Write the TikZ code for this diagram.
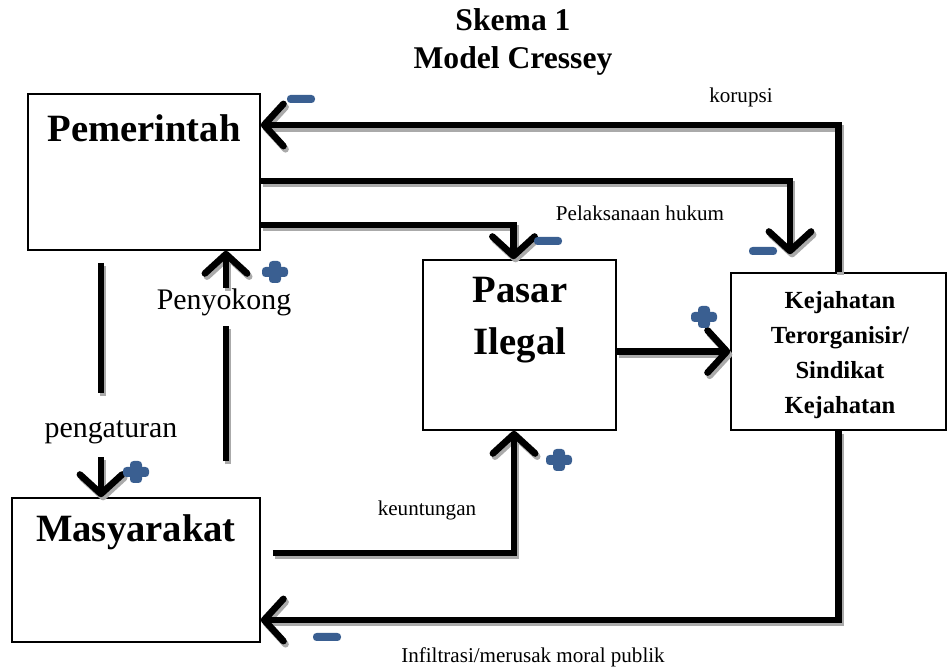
\documentclass[tikz,border=0pt]{standalone}
\usepackage{fontspec}
\setmainfont{Liberation Serif}
\usepackage{xcolor}
\usetikzlibrary{arrows.meta, positioning, calc}

\definecolor{signblue}{RGB}{58,95,145}
\definecolor{shadowgray}{RGB}{170,170,170}

\tikzset{
  box/.style={draw=black, line width=0.9pt, fill=white, inner sep=0pt},
  boxtext/.style={font=\bfseries\fontsize{22}{30}\selectfont, align=center, inner sep=0pt},
  flowline/.style={line width=3.8pt},
  flow/.style={flowline, -{Straight Barb[length=11pt, width=24pt, round]}},
  smalllabel/.style={font=\fontsize{12}{14}\selectfont, inner sep=0pt},
  biglabel/.style={font=\fontsize{17}{20}\selectfont, inner sep=0pt},
  minus sign/.pic={\fill[signblue, rounded corners=2pt] (-14,-4) rectangle (14,4);},
  plus sign/.pic={\fill[signblue, rounded corners=2pt] (-13,-5) rectangle (13,5);
                  \fill[signblue, rounded corners=2pt] (-6,-11) rectangle (6,11);}
}

% connector with a grey drop shadow
\newcommand{\shadowed}[2]{%
  \begin{scope}[transform canvas={shift={(1.2pt,-1.8pt)}}]
    \draw[#1, draw=shadowgray] #2;
  \end{scope}
  \draw[#1] #2;}

\begin{document}
\begin{tikzpicture}[x=0.02cm, y=-0.02cm]
  \useasboundingbox (0,0) rectangle (948,668);

  % ----- Title -----
  \node[font=\bfseries\fontsize{18}{21.5}\selectfont, align=center] (title) at (513,42) {Skema 1\\Model Cressey};

  % ----- Boxes -----
  \node[box, minimum width=4.64cm, minimum height=3.12cm] (pem) at (144,172) {};
  \node[boxtext] (pemtxt) at (144,128) {Pemerintah};

  \node[box, minimum width=3.86cm, minimum height=3.4cm] (pasar) at (519.5,345) {};
  \node[boxtext] (pasartxt) at (520,320) {Pasar\\Ilegal};

  \node[box, minimum width=4.3cm, minimum height=3.14cm] (kej) at (838.5,351.5) {};
  \node[boxtext, font=\bfseries\fontsize{14}{19.8}\selectfont] (kejtxt) at (840,355)
    {Kejahatan\\Terorganisir/\\Sindikat\\Kejahatan};

  \node[box, minimum width=4.96cm, minimum height=2.88cm] (masy) at (136,570) {};
  \node[boxtext] (masytxt) at (136,532) {Masyarakat};

  % ----- Connectors -----
  % korupsi
  \shadowed{flow}{(kej.north) |- ([yshift=0.94cm]pem.east)}
  % Pemerintah -> Kejahatan
  \shadowed{flow}{([yshift=-0.18cm]pem.east) -| ([xshift=-0.97cm, yshift=0.36cm]kej.north)}
  % Pelaksanaan hukum
  \shadowed{flow}{([yshift=-1.06cm]pem.east) -| ([xshift=-0.12cm]pasar.north)}
  % Pasar -> Kejahatan
  \shadowed{flow}{(pasar.east |- kej.west) -- (kej.west)}
  % keuntungan
  \shadowed{flow}{([xshift=0.24cm, yshift=0.34cm]masy.east) -| ([xshift=-0.11cm]pasar.south)}
  % Infiltrasi
  \shadowed{flow}{(kej.south) |- ([yshift=-1cm]masy.east)}

  % pengaturan
  \shadowed{flowline}{([xshift=-0.86cm, yshift=-0.24cm]pem.south) -- ++(0,130)}
  \shadowed{flow}{([xshift=-0.7cm, yshift=0.8cm]masy.north) -- ([xshift=-0.7cm]masy.north)}
  % Penyokong
  \shadowed{flowline}{([xshift=1.8cm, yshift=0.72cm]masy.north) -- ++(0,-135)}
  \shadowed{flow}{([xshift=1.64cm, yshift=-0.74cm]pem.south) -- ([xshift=1.64cm]pem.south)}

  % ----- Labels -----
  \node[smalllabel] (lkorupsi) at (741,97) {korupsi};
  \node[smalllabel] (lhukum) at (640,213) {Pelaksanaan hukum};
  \node[smalllabel] (luntung) at (427,510) {keuntungan};
  \node[smalllabel] (linfil) at (533,657) {Infiltrasi/merusak moral publik};
  \node[biglabel] (lsokong) at (224,302) {Penyokong};
  \node[biglabel] (latur) at (111,432) {pengaturan};

  % ----- Signs -----
  \pic at (301,99) {minus sign};
  \pic at (548,241) {minus sign};
  \pic at (763,251) {minus sign};
  \pic at (327,637) {minus sign};
  \pic at (275,272) {plus sign};
  \pic at (136,472) {plus sign};
  \pic at (559,460) {plus sign};
  \pic at (704,317) {plus sign};
\end{tikzpicture}
\end{document}
